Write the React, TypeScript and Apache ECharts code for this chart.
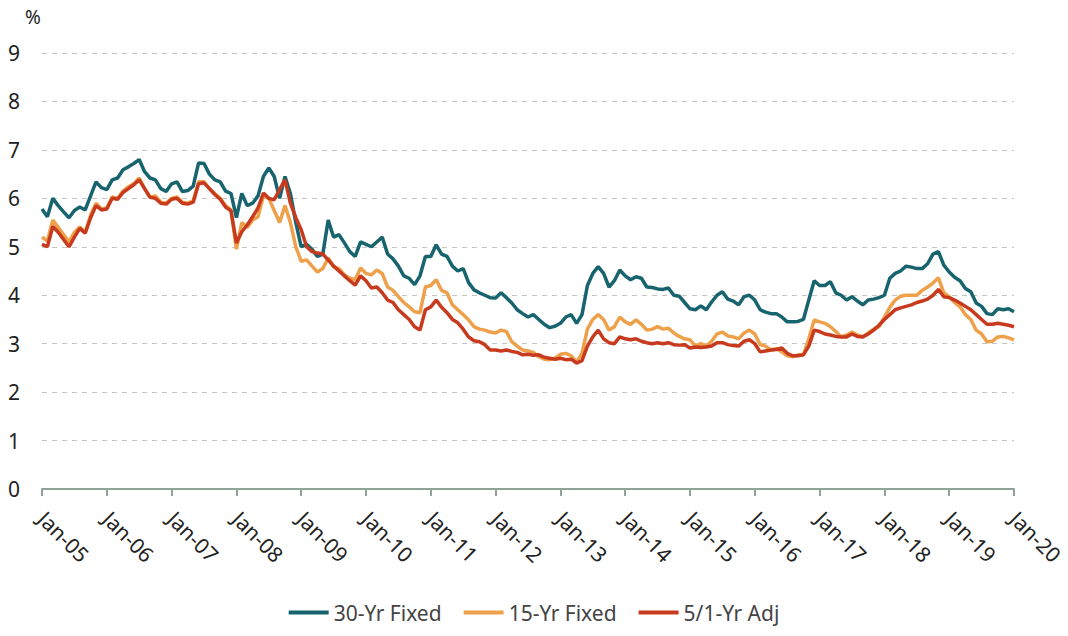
import React, { useEffect, useRef } from "react";
import * as echarts from "echarts";

const YEARS = ["05", "06", "07", "08", "09", "10", "11", "12", "13", "14", "15", "16", "17", "18", "19"];
const MONTHS = ["Jan", "Feb", "Mar", "Apr", "May", "Jun", "Jul", "Aug", "Sep", "Oct", "Nov", "Dec"];
const categories: string[] = [];
YEARS.forEach((y) => MONTHS.forEach((m) => categories.push(`${m}-${y}`)));
categories.push("Jan-20");

const fixed30 = [
  5.78, 5.62, 6.0, 5.85, 5.72, 5.6, 5.75, 5.82, 5.76, 6.05, 6.34, 6.22,
  6.18, 6.38, 6.42, 6.59, 6.65, 6.72, 6.8, 6.55, 6.42, 6.38, 6.2, 6.14,
  6.3, 6.34, 6.14, 6.16, 6.25, 6.73, 6.72, 6.5, 6.38, 6.34, 6.15, 6.1,
  5.6, 6.1, 5.85, 5.9, 6.05, 6.45, 6.63, 6.45, 6.0, 6.45, 6.1, 5.5,
  5.0, 5.05, 4.95, 4.8, 4.85, 5.55, 5.2, 5.25, 5.08, 4.9, 4.8, 5.1,
  5.05, 5.0, 5.1, 5.2, 4.85, 4.75, 4.6, 4.4, 4.35, 4.22, 4.4, 4.8,
  4.8, 5.04, 4.85, 4.8, 4.6, 4.5, 4.55, 4.26, 4.11, 4.05, 4.0, 3.95,
  3.94, 4.05, 3.95, 3.84, 3.7, 3.62, 3.55, 3.6, 3.5, 3.4, 3.33, 3.36,
  3.42, 3.55, 3.6, 3.42, 3.6, 4.2, 4.45, 4.59, 4.45, 4.17, 4.3, 4.52,
  4.4, 4.32, 4.38, 4.35, 4.17, 4.16, 4.13, 4.12, 4.15, 4.0, 3.98, 3.85,
  3.72, 3.7, 3.78, 3.7, 3.86, 4.0, 4.07, 3.92, 3.88, 3.8, 3.97, 4.0,
  3.9, 3.7, 3.65, 3.62, 3.62, 3.55, 3.45, 3.45, 3.46, 3.5, 3.9, 4.3,
  4.2, 4.2, 4.28, 4.05, 4.0, 3.9, 3.97, 3.88, 3.8, 3.9, 3.92, 3.95,
  4.0, 4.35, 4.45, 4.5, 4.6, 4.58, 4.55, 4.55, 4.65, 4.85, 4.9, 4.62,
  4.48, 4.37, 4.3, 4.14, 4.07, 3.84, 3.77, 3.62, 3.6, 3.72, 3.7, 3.72,
  3.66,
];

const fixed15 = [
  5.2, 5.12, 5.55, 5.4, 5.25, 5.1, 5.3, 5.41, 5.3, 5.65, 5.9, 5.78,
  5.8, 6.03, 6.0, 6.15, 6.24, 6.3, 6.42, 6.2, 6.03, 6.05, 5.92, 5.9,
  6.0, 6.03, 5.92, 5.9, 5.95, 6.34, 6.34, 6.2, 6.1, 6.0, 5.85, 5.76,
  4.95, 5.5, 5.4, 5.55, 5.62, 6.05, 6.0, 5.75, 5.5, 5.85, 5.5, 5.0,
  4.7, 4.73, 4.6, 4.48, 4.55, 4.77, 4.59, 4.55, 4.42, 4.35, 4.32, 4.56,
  4.45, 4.42, 4.52, 4.45, 4.17, 4.1, 3.97, 3.85, 3.76, 3.66, 3.64, 4.17,
  4.2, 4.32, 4.1, 4.05, 3.8, 3.7, 3.6, 3.49, 3.35, 3.3, 3.28, 3.24,
  3.22, 3.28, 3.25, 3.04, 2.95, 2.87, 2.85, 2.82, 2.73, 2.68, 2.67, 2.7,
  2.78, 2.8, 2.75, 2.62, 2.8, 3.3, 3.5, 3.6, 3.5, 3.28, 3.35, 3.55,
  3.45, 3.4, 3.49, 3.4, 3.28, 3.3, 3.35, 3.3, 3.32, 3.22, 3.15, 3.1,
  3.08, 2.95, 3.0, 2.95, 3.05, 3.2, 3.24, 3.16, 3.14, 3.1, 3.22, 3.28,
  3.2, 2.98, 2.95, 2.87, 2.9, 2.83, 2.75, 2.73, 2.77, 2.77, 3.1, 3.49,
  3.45, 3.42, 3.35, 3.25, 3.14, 3.18, 3.24, 3.18, 3.14, 3.22, 3.3, 3.35,
  3.55, 3.75, 3.9, 3.98, 4.0, 4.0, 4.0, 4.1, 4.17, 4.25, 4.36, 4.05,
  3.97, 3.85, 3.76, 3.6, 3.5, 3.28, 3.2, 3.04, 3.05, 3.14, 3.15, 3.12,
  3.08,
];

const adj51 = [
  5.05, 5.0, 5.42, 5.3, 5.15, 5.0, 5.2, 5.38, 5.28, 5.6, 5.85, 5.76,
  5.78, 6.0, 5.98, 6.12, 6.2, 6.28, 6.38, 6.2, 6.02, 6.0, 5.9, 5.88,
  5.98, 6.0, 5.9, 5.88, 5.92, 6.3, 6.32, 6.2, 6.08, 5.98, 5.82, 5.74,
  5.08, 5.31, 5.45, 5.62, 5.8, 6.11, 6.0, 5.97, 6.18, 6.38, 5.9, 5.6,
  5.35, 5.0, 4.9, 4.87, 4.85, 4.73, 4.6, 4.5, 4.4, 4.3, 4.21, 4.4,
  4.3, 4.15, 4.17, 4.05, 3.9, 3.85, 3.7, 3.6, 3.5, 3.35, 3.28, 3.7,
  3.76, 3.9, 3.75, 3.64, 3.5, 3.43, 3.3, 3.14, 3.06, 3.04, 2.98, 2.87,
  2.87, 2.85, 2.87, 2.84, 2.82, 2.77, 2.78, 2.76, 2.77, 2.72, 2.7, 2.68,
  2.7, 2.67, 2.68, 2.6, 2.65, 2.95, 3.14, 3.28, 3.1, 3.02, 3.0, 3.14,
  3.1, 3.08, 3.1, 3.05, 3.02, 3.0, 3.02, 3.0, 3.02, 2.98, 2.97, 2.98,
  2.91, 2.93, 2.92, 2.93, 2.95, 3.02, 3.02, 2.98, 2.96, 2.95, 3.05, 3.08,
  3.0, 2.83, 2.85, 2.87, 2.88, 2.91, 2.8, 2.75, 2.75, 2.77, 2.95, 3.28,
  3.25, 3.2, 3.18, 3.15, 3.14, 3.14, 3.2, 3.15, 3.14, 3.2, 3.28, 3.38,
  3.5, 3.6, 3.7, 3.74, 3.77, 3.8, 3.85, 3.88, 3.92, 4.0, 4.12, 3.97,
  3.95, 3.9, 3.84, 3.77, 3.7, 3.6, 3.5, 3.4, 3.4, 3.42, 3.4, 3.38,
  3.35,
];

const SERIES_NAMES = ["30-Yr Fixed", "15-Yr Fixed", "5/1-Yr Adj"];
const COLORS = ["#17646f", "#eea04a", "#c83a1e"];

export default function App() {
  const ref = useRef<HTMLDivElement>(null);
  useEffect(() => {
    if (!ref.current) return;
    const chart = echarts.init(ref.current, null, { renderer: "svg" });
    const font = "'Noto Sans', sans-serif";
    const isJan = (i: number) => i % 12 === 0;
    chart.setOption({
      animation: false,
      textStyle: { fontFamily: font },
      grid: { left: 42, right: 54, top: 53, bottom: 147, containLabel: false, outerBoundsMode: "none" },
      graphic: [
        { type: "text", left: 25, top: 7, style: { text: "%", fontSize: 19, fill: "#222", fontFamily: font } },
      ],
      legend: {
        bottom: 8,
        left: "center",
        icon: "rect",
        itemWidth: 40,
        itemHeight: 4,
        itemGap: 22,
        textStyle: { fontSize: 21, color: "#444", fontFamily: font },
        data: SERIES_NAMES,
      },
      xAxis: {
        type: "category",
        data: categories,
        boundaryGap: false,
        axisLine: { lineStyle: { color: "#8fa398", width: 2 } },
        axisTick: { show: true, interval: (i: number) => isJan(i), length: 7, lineStyle: { color: "#8fa398", width: 2 } },
        axisLabel: {
          interval: (i: number) => isJan(i),
          rotate: -45,
          margin: 26,
          fontSize: 21,
          color: "#222",
          fontFamily: font,
        },
        splitLine: { show: false },
      },
      yAxis: {
        type: "value",
        min: 0,
        max: 9,
        interval: 1,
        axisLine: { show: false },
        axisTick: { show: false },
        axisLabel: { fontSize: 21, color: "#222", margin: 22, fontFamily: font },
        splitLine: { lineStyle: { type: [5, 5], color: "#c4c4c4", width: 1 } },
      },
      series: [
        { name: SERIES_NAMES[0], type: "line", data: fixed30, showSymbol: false, lineStyle: { width: 3.5, color: COLORS[0] }, itemStyle: { color: COLORS[0] } },
        { name: SERIES_NAMES[1], type: "line", data: fixed15, showSymbol: false, lineStyle: { width: 3.5, color: COLORS[1] }, itemStyle: { color: COLORS[1] } },
        { name: SERIES_NAMES[2], type: "line", data: adj51, showSymbol: false, lineStyle: { width: 3.5, color: COLORS[2] }, itemStyle: { color: COLORS[2] } },
      ],
    });
    return () => chart.dispose();
  }, []);
  return <div ref={ref} style={{ position: "absolute", left: 0, top: 0, width: 1068, height: 636 }} />;
}
